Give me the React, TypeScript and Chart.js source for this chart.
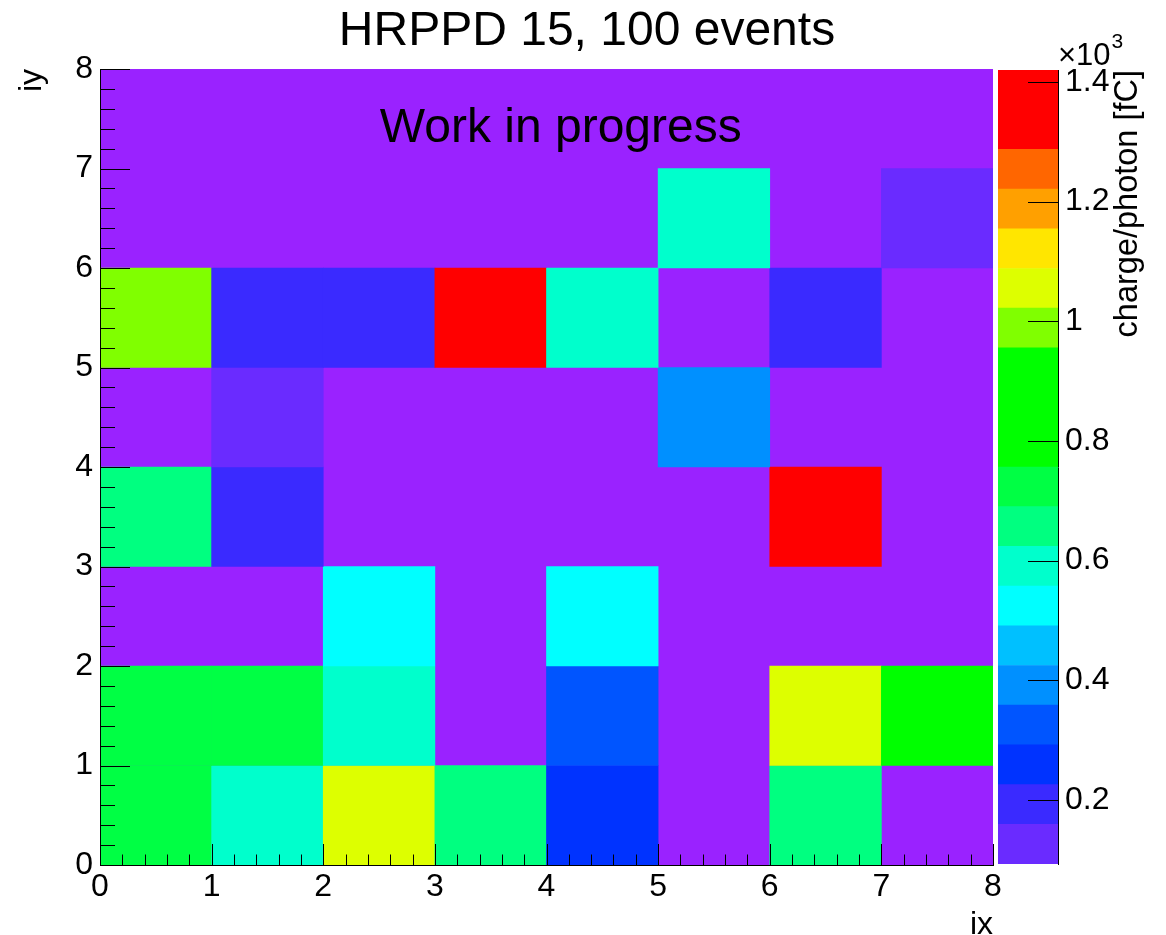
import React, { useEffect, useRef } from "react";
import { Chart, registerables } from "chart.js";

Chart.register(...registerables);

const FONT = "'Liberation Sans', Arial, Helvetica, sans-serif";

// ---- data: charge/photon [fC] per pad, one array per iy row (0 = empty pad) ----
const ixBins = [0, 1, 2, 3, 4, 5, 6, 7];
const iy0 = [740, 600, 1060, 680, 250, 0, 670, 0];
const iy1 = [735, 745, 590, 0, 320, 0, 1050, 860];
const iy2 = [0, 0, 530, 0, 520, 0, 0, 0];
const iy3 = [680, 190, 0, 0, 0, 0, 1370, 0];
const iy4 = [0, 120, 0, 0, 0, 390, 0, 0];
const iy5 = [990, 195, 185, 1420, 600, 0, 200, 0];
const iy6 = [0, 0, 0, 0, 0, 595, 0, 93];
const iy7 = [0, 0, 0, 0, 0, 0, 0, 0];
const rows = [iy0, iy1, iy2, iy3, iy4, iy5, iy6, iy7];

const axisTicks = [0, 1, 2, 3, 4, 5, 6, 7, 8];
const zTicks = [200, 400, 600, 800, 1000, 1200, 1400];

const palette = [
  "#6a2bff", "#3a2aff", "#0033ff", "#0055ff", "#0090ff",
  "#00c0ff", "#00ffff", "#00ffcc", "#00ff80", "#00ff44",
  "#00ff00", "#00ff00", "#00ff00", "#80ff00", "#ddff00",
  "#ffe600", "#ffa000", "#ff6600", "#ff0000", "#ff0000",
];
const emptyColor = "#9a22ff";

const titleText = "HRPPD 15, 100 events";
const noteText = "Work in progress";
const zTitle = "charge/photon [fC]";

// ---- derived ----
const allValues = rows.flat().filter((v) => v > 0);
const zMin = Math.min(...allValues);
const zMax = Math.max(...allValues);
const nLevels = palette.length;
const zStep = (zMax - zMin) / nLevels;

function colorFor(v: number): string {
  const k = Math.min(nLevels - 1, Math.max(0, Math.floor((v - zMin) / zStep)));
  return palette[k];
}

const cells: { x: number; y: [number, number]; v: number }[] = [];
rows.forEach((row, iy) => {
  row.forEach((v, i) => {
    if (v > 0) cells.push({ x: ixBins[i] + 0.5, y: [iy, iy + 1], v });
  });
});

const mainPlugin = {
  id: "rootStyle",
  beforeDatasetsDraw(chart: any) {
    const { ctx, chartArea: a } = chart;
    ctx.save();
    ctx.fillStyle = emptyColor;
    ctx.fillRect(a.left, a.top, a.right - a.left, a.bottom - a.top);
    ctx.restore();
  },
  afterDatasetsDraw(chart: any) {
    const { ctx, chartArea: a, scales } = chart;
    const xs = scales.x;
    const ys = scales.y;
    ctx.save();
    ctx.strokeStyle = "#000";
    ctx.lineWidth = 1;
    ctx.beginPath();
    for (let i = 0; i <= 40; i++) {
      const px = Math.round(xs.getPixelForValue(i / 5)) + 0.5;
      const len = i % 5 === 0 ? 21 : 10.5;
      ctx.moveTo(px, a.bottom);
      ctx.lineTo(px, a.bottom - len);
      const py = Math.round(ys.getPixelForValue(i / 5)) + 0.5;
      const leny = i % 5 === 0 ? 30 : 15;
      ctx.moveTo(a.left, py);
      ctx.lineTo(a.left + leny, py);
    }
    ctx.stroke();
    // annotation
    ctx.fillStyle = "#000";
    ctx.font = `48px ${FONT}`;
    ctx.textAlign = "left";
    ctx.textBaseline = "alphabetic";
    ctx.fillText(noteText, xs.getPixelForValue(2.507), ys.getPixelForValue(7.266));
    ctx.restore();
  },
};

const cbPlugin = {
  id: "cbStyle",
  afterDatasetsDraw(chart: any) {
    const { ctx, chartArea: a, scales } = chart;
    const ys = scales.y;
    ctx.save();
    ctx.strokeStyle = "#000";
    ctx.lineWidth = 1;
    ctx.beginPath();
    zTicks.forEach((v) => {
      const py = Math.round(ys.getPixelForValue(v)) + 0.5;
      ctx.moveTo(a.right - 30, py);
      ctx.lineTo(a.right, py);
    });
    ctx.stroke();
    ctx.fillStyle = "#000";
    ctx.textBaseline = "alphabetic";
    ctx.textAlign = "left";
    ctx.font = `31px ${FONT}`;
    const base = "\u00d710";
    ctx.fillText(base, a.right, 65);
    const w = ctx.measureText(base).width;
    ctx.font = `21px ${FONT}`;
    ctx.fillText("3", a.right + w + 1, 48);
    // axis title, reading bottom to top
    ctx.font = `32.5px ${FONT}`;
    ctx.translate(a.right + 79, a.top);
    ctx.rotate(-Math.PI / 2);
    ctx.textAlign = "right";
    ctx.fillText(zTitle, 0, 0);
    ctx.restore();
  },
};

export default function App() {
  const mainRef = useRef<HTMLCanvasElement>(null);
  const cbRef = useRef<HTMLCanvasElement>(null);

  useEffect(() => {
    const tickFont = { family: FONT, size: 32 };
    const main = new Chart(mainRef.current as HTMLCanvasElement, {
      type: "bar",
      data: {
        datasets: [
          {
            data: cells as any,
            backgroundColor: (c: any) => (c.raw ? colorFor(c.raw.v) : emptyColor),
            borderWidth: 0,
            barPercentage: 1,
            categoryPercentage: 1,
          } as any,
        ],
      },
      options: {
        responsive: false,
        animation: false,
        layout: { padding: { left: 8, right: 0, top: 0, bottom: 0 } },
        plugins: {
          legend: { display: false },
          tooltip: { enabled: false },
          title: {
            display: true,
            text: titleText,
            color: "#000",
            font: { family: FONT, size: 48, weight: "normal", lineHeight: 1.2 },
            padding: { top: 3, bottom: 8.4 },
          },
        },
        scales: {
          x: {
            type: "linear",
            min: 0,
            max: 8,
            offset: false,
            afterBuildTicks: (s: any) => {
              s.ticks = axisTicks.map((v) => ({ value: v }));
            },
            afterFit: (s: any) => {
              s.height = 70;
            },
            grid: { display: false, drawTicks: false, offset: false },
            border: { display: true, color: "#000", width: 1, z: 1 },
            ticks: {
              font: tickFont,
              color: "#000",
              padding: 3,
              maxRotation: 0,
              autoSkip: false,
              callback: (v: any) => String(v),
            },
            title: {
              display: true,
              text: "ix",
              align: "end",
              color: "#000",
              font: { family: FONT, size: 32, lineHeight: 0.625 },
              padding: { top: 0, bottom: 0 },
            },
          },
          y: {
            type: "linear",
            min: 0,
            max: 8,
            afterBuildTicks: (s: any) => {
              s.ticks = axisTicks.map((v) => ({ value: v }));
            },
            afterFit: (s: any) => {
              s.width = 92;
            },
            grid: { display: false, drawTicks: false },
            border: { display: true, color: "#000", width: 1, z: 1 },
            ticks: {
              font: tickFont,
              color: "#000",
              padding: 7,
              autoSkip: false,
              callback: (v: any) => String(v),
            },
            title: {
              display: true,
              text: "iy",
              align: "end",
              color: "#000",
              font: { family: FONT, size: 32, lineHeight: 1.2 },
              padding: { top: 4.8, bottom: 0 },
            },
          },
          yr: {
            type: "linear",
            position: "right",
            display: true,
            afterFit: (s: any) => {
              s.width = 173;
            },
            grid: { display: false, drawTicks: false },
            border: { display: false },
            ticks: { display: false },
          },
        },
      } as any,
      plugins: [mainPlugin],
    });

    const cb = new Chart(cbRef.current as HTMLCanvasElement, {
      type: "bar",
      data: {
        labels: [""],
        datasets: palette.map((c, k) => ({
          data: [[zMin + k * zStep, zMin + (k + 1) * zStep]] as any,
          backgroundColor: c,
          borderWidth: 0,
          barPercentage: 1,
          categoryPercentage: 1,
          grouped: false,
        })) as any,
      },
      options: {
        responsive: false,
        animation: false,
        layout: { padding: { top: 70, bottom: 71, left: 0, right: 0 } },
        plugins: {
          legend: { display: false },
          tooltip: { enabled: false },
          title: { display: false },
        },
        scales: {
          x: { display: false },
          y: {
            position: "right",
            min: zMin,
            max: zMax,
            afterBuildTicks: (s: any) => {
              s.ticks = zTicks.map((v) => ({ value: v }));
            },
            afterFit: (s: any) => {
              s.width = 108;
            },
            grid: { display: false, drawTicks: false },
            border: { display: true, color: "#000", width: 1, z: 1 },
            ticks: {
              font: { family: FONT, size: 32 },
              color: "#000",
              padding: 7,
              autoSkip: false,
              callback: (v: any) => String(Number(v) / 1000),
            },
          },
        },
      } as any,
      plugins: [cbPlugin],
    });

    return () => {
      main.destroy();
      cb.destroy();
    };
  }, []);

  return (
    <div
      style={{
        position: "fixed",
        left: 0,
        top: 0,
        width: 1166,
        height: 935,
        background: "#fff",
        overflow: "hidden",
      }}
    >
      <canvas
        ref={mainRef}
        width={1166}
        height={935}
        style={{ position: "absolute", left: 0, top: 0, width: 1166, height: 935 }}
      />
      <canvas
        ref={cbRef}
        width={168}
        height={935}
        style={{ position: "absolute", left: 998, top: 0, width: 168, height: 935 }}
      />
    </div>
  );
}
